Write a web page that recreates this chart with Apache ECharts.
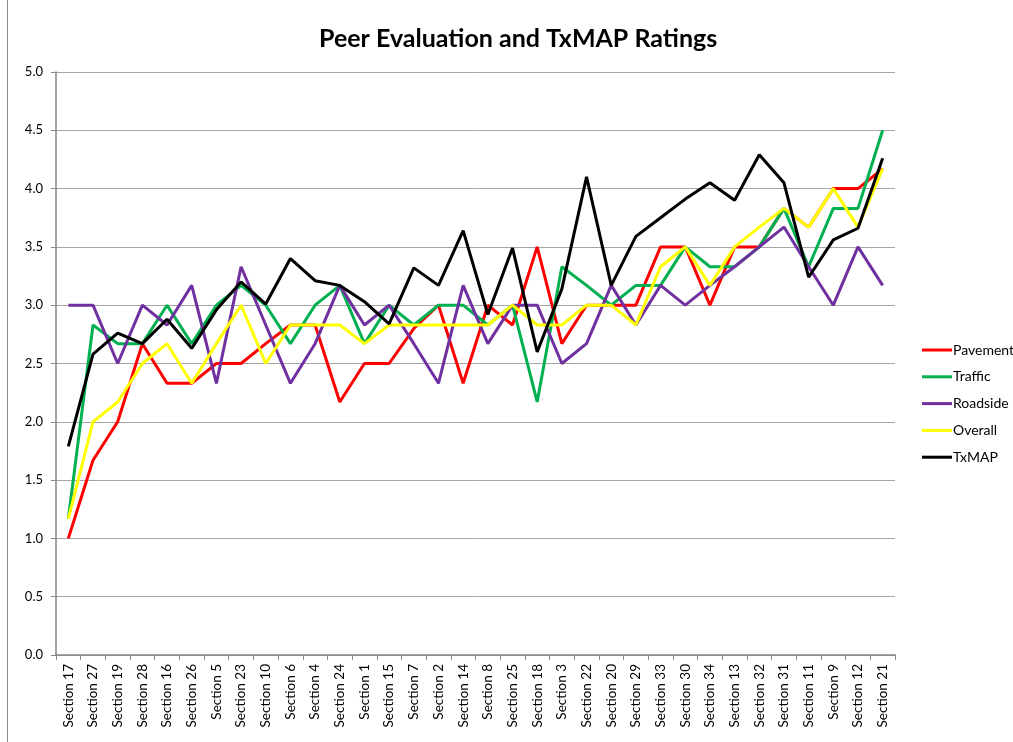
<!DOCTYPE html>
<html>
<head>
<meta charset="utf-8">
<title>Peer Evaluation and TxMAP Ratings</title>
<script src="https://cdn.jsdelivr.net/npm/echarts@6/dist/echarts.min.js"></script>
<style>
  html, body { margin: 0; padding: 0; background: #fff; }
  #chart { width: 1013px; height: 742px; }
</style>
</head>
<body>
<div id="chart"></div>
<script>
// 数据
const sections = ['Section 17', 'Section 27', 'Section 19', 'Section 28', 'Section 16', 'Section 26', 'Section 5',
  'Section 23', 'Section 10', 'Section 6', 'Section 4', 'Section 24', 'Section 1', 'Section 15', 'Section 7',
  'Section 2', 'Section 14', 'Section 8', 'Section 25', 'Section 18', 'Section 3', 'Section 22', 'Section 20',
  'Section 29', 'Section 33', 'Section 30', 'Section 34', 'Section 13', 'Section 32', 'Section 31', 'Section 11',
  'Section 9', 'Section 12', 'Section 21'];

const pavement = [1.0, 1.67, 2.0, 2.67, 2.33, 2.33, 2.5, 2.5, 2.67, 2.83, 2.83, 2.17, 2.5, 2.5, 2.8, 3.0, 2.33,
  3.0, 2.83, 3.5, 2.67, 3.0, 3.0, 3.0, 3.5, 3.5, 3.0, 3.5, 3.5, 3.83, 3.67, 4.0, 4.0, 4.17];
const traffic = [1.17, 2.83, 2.67, 2.67, 3.0, 2.67, 3.0, 3.17, 3.0, 2.67, 3.0, 3.17, 2.67, 3.0, 2.83, 3.0, 3.0,
  2.83, 3.0, 2.17, 3.33, 3.17, 3.0, 3.17, 3.17, 3.5, 3.33, 3.33, 3.5, 3.83, 3.33, 3.83, 3.83, 4.5];
const roadside = [3.0, 3.0, 2.5, 3.0, 2.83, 3.17, 2.33, 3.33, 2.83, 2.33, 2.67, 3.17, 2.83, 3.0, 2.67, 2.33, 3.17,
  2.67, 3.0, 3.0, 2.5, 2.67, 3.17, 2.83, 3.17, 3.0, 3.17, 3.33, 3.5, 3.67, 3.33, 3.0, 3.5, 3.17];
const overall = [1.17, 2.0, 2.17, 2.5, 2.67, 2.33, 2.67, 3.0, 2.5, 2.83, 2.83, 2.83, 2.67, 2.83, 2.83, 2.83, 2.83,
  2.83, 3.0, 2.83, 2.83, 3.0, 3.0, 2.83, 3.33, 3.5, 3.17, 3.5, 3.67, 3.83, 3.67, 4.0, 3.67, 4.17];
const txmap = [1.79, 2.58, 2.76, 2.67, 2.88, 2.63, 2.96, 3.2, 3.01, 3.4, 3.21, 3.17, 3.03, 2.84, 3.32, 3.17, 3.64,
  2.92, 3.49, 2.6, 3.14, 4.1, 3.17, 3.59, 3.75, 3.91, 4.05, 3.9, 4.29, 4.05, 3.24, 3.56, 3.66, 4.26];

const seriesNames = ['Pavement', 'Traffic', 'Roadside', 'Overall', 'TxMAP'];
const seriesColors = ['#ff0000', '#00b050', '#7030a0', '#ffff00', '#000000'];

(function () {
  let myChart = echarts.init(document.getElementById('chart'));
  const font = 'Lato, "Liberation Sans", sans-serif';
  const allData = [pavement, traffic, roadside, overall, txmap];

  let option = {
    animation: false,
    backgroundColor: '#fff',
    textStyle: { fontFamily: font },
    title: {
      text: 'Peer Evaluation and TxMAP Ratings',
      left: 314,
      top: 21,
      textStyle: { fontFamily: font, fontSize: 25, fontWeight: 'bold', color: '#000' }
    },
    legend: {
      orient: 'vertical',
      left: 917,
      top: 338,
      icon: 'rect',
      itemWidth: 30,
      itemHeight: 3,
      itemGap: 12.8,
      data: seriesNames,
      textStyle: { fontFamily: font, fontSize: 14, color: '#000', padding: [0, 0, 0, -4] }
    },
    grid: {
      left: 56,
      right: 118,
      top: 72,
      bottom: 87,
      containLabel: false
    },
    xAxis: {
      type: 'category',
      data: sections,
      boundaryGap: true,
      axisLine: { lineStyle: { color: '#868686', width: 1.5 } },
      axisTick: { show: true, interval: 0, length: 5, lineStyle: { color: '#868686' } },
      axisLabel: { interval: 0, rotate: 90, fontSize: 13.5, color: '#000', margin: 9, fontFamily: font }
    },
    yAxis: {
      type: 'value',
      min: 0,
      max: 5,
      interval: 0.5,
      axisLine: { show: true, lineStyle: { color: '#868686', width: 1.5 } },
      axisTick: { show: true, length: 5, lineStyle: { color: '#868686' } },
      axisLabel: { fontSize: 13, color: '#000', margin: 13, fontFamily: font,
        formatter: function (v) { return v.toFixed(1); } },
      splitLine: { lineStyle: { color: '#a6a6a6', width: 1 } }
    },
    graphic: [{
      type: 'rect',
      shape: { x: 7.5, y: -2, width: 1010, height: 746 },
      style: { fill: 'none', stroke: '#8c8c8c', lineWidth: 1 },
      silent: true
    }],
    series: seriesNames.map(function (name, i) {
      return {
        name: name,
        type: 'line',
        data: allData[i],
        symbol: 'none',
        color: seriesColors[i],
        lineStyle: { color: seriesColors[i], width: 3 }
      };
    })
  };

  myChart.setOption(option);
})();
</script>
</body>
</html>
